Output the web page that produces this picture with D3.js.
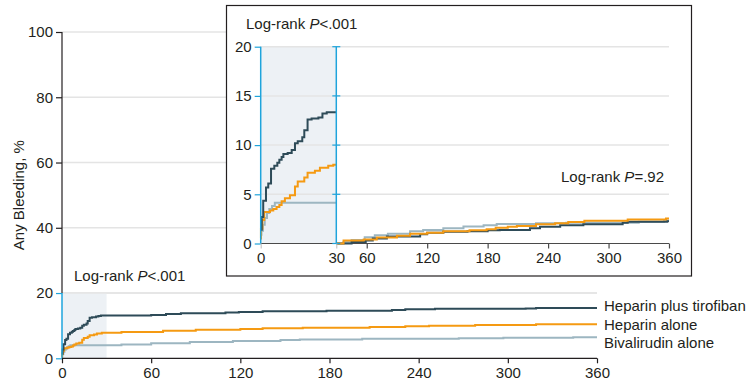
<!DOCTYPE html>
<html>
<head>
<meta charset="utf-8">
<script src="https://cdn.jsdelivr.net/npm/d3@7"></script>
<style>
  html, body { margin: 0; padding: 0; background: #fff; }
  svg { display: block; }
  text { font-family: "Liberation Sans", Arial, sans-serif; fill: #231f20; }
</style>
</head>
<body>
<svg id="chart" width="746" height="387"></svg>
<script>
// ---------- DATA ----------
const seriesNames = ["Heparin plus tirofiban", "Heparin alone", "Bivalirudin alone"];
const mainXTicks = [0, 60, 120, 180, 240, 300, 360];
const mainYTicks = [0, 20, 40, 60, 80, 100];
const insetYTicks = [0, 5, 10, 15, 20];
const insetXTicksEarly = [0, 30];
const insetXTicksLate = [60, 120, 180, 240, 300, 360];

// Main panel: [day, cumulative %]
const tirofibanMain = [[0,1.4],[0.4,2.7],[1.0,4.3],[2.1,5.6],[3.0,6.0],[4.1,7.4],[5.4,7.8],[6.6,8.1],[7.4,8.4],[8.3,8.7],[9.0,9.0],[10.7,9.1],[12.3,9.4],[13.6,10.0],[14.7,10.3],[16.5,10.7],[17.3,11.4],[18.6,12.4],[20.2,12.6],[22.9,12.8],[24.5,13.0],[26.2,13.1],[60,13.3],[70,13.6],[80,13.8],[110,14.0],[119,14.2],[135,14.4],[178,14.6],[222,14.8],[231,15.0],[251,15.15],[312,15.3],[319,15.45],[360,15.45]];
const heparinMain = [[0,0.5],[0.1,1.5],[0.65,2.3],[1.4,3.1],[3.7,3.3],[5.0,3.45],[6.3,3.65],[7.4,3.9],[8.3,4.2],[9.6,4.5],[11.6,4.8],[13.6,5.7],[14.7,6.2],[17.3,6.6],[18.6,7.1],[21.5,7.3],[23.5,7.6],[26.8,7.8],[40,8.07],[68,8.45],[90,8.75],[120,9.0],[135,9.2],[162,9.4],[207,9.6],[231,9.8],[247,10.0],[278,10.2],[319,10.4],[360,10.4]];
const bivalirudinMain = [[0,0.9],[0.3,1.3],[0.9,1.9],[1.6,2.6],[2.5,3.0],[3.4,3.4],[4.5,3.7],[5.6,4.0],[40,4.2],[60,4.6],[86,5.0],[115,5.3],[147,5.6],[160,5.8],[202,6.0],[267,6.15],[297,6.3],[344,6.45],[360,6.45]];

// Inset, days 0-30
const tirofibanEarly = [[0,1.4],[0.4,2.7],[1.0,4.35],[2.1,5.7],[3.0,6.1],[4.1,7.6],[5.4,7.9],[6.6,8.2],[7.4,8.5],[8.3,8.8],[9.0,9.1],[10.7,9.2],[12.3,9.5],[13.6,10.2],[14.7,10.4],[16.5,10.8],[17.3,11.5],[18.6,12.6],[20.2,12.7],[22.9,12.8],[24.5,13.2],[26.2,13.35],[30,13.35]];
const heparinEarly = [[0,0.5],[0.1,1.5],[0.65,2.4],[1.4,3.2],[3.7,3.35],[5.0,3.5],[6.3,3.7],[7.4,3.9],[8.3,4.3],[9.6,4.6],[11.6,4.9],[13.6,5.8],[14.7,6.3],[17.3,6.7],[18.6,7.2],[21.5,7.4],[23.5,7.7],[26.8,7.9],[28.8,8.0],[30,8.0]];
const bivalirudinEarly = [[0,0.9],[0.3,1.3],[0.9,1.9],[1.6,2.6],[2.5,3.1],[3.4,3.5],[4.5,3.8],[5.6,4.15],[30,4.15]];

// Inset, days 30-360 (landmark)
const tirofibanLate = [[30,0],[45,0.15],[59,0.3],[66,0.5],[80,0.7],[113,0.93],[120,1.08],[136,1.19],[160,1.25],[180,1.34],[192,1.37],[222,1.54],[232,1.71],[252,1.85],[275,1.95],[314,2.1],[319,2.2],[358,2.25],[360,2.25]];
const heparinLate = [[30,0],[37,0.3],[57,0.4],[70,0.6],[90,0.8],[103,0.98],[120,1.1],[136,1.25],[162,1.34],[179,1.45],[188,1.6],[200,1.71],[209,1.78],[228,1.95],[247,2.05],[260,2.18],[276,2.3],[319,2.45],[357,2.55],[360,2.55]];
const bivalirudinLate = [[30,0],[37,0.15],[45,0.35],[58,0.63],[68,0.85],[81,1.0],[103,1.24],[116,1.37],[136,1.54],[156,1.72],[176,1.85],[189,1.98],[228,2.05],[258,2.1],[300,2.12],[330,2.22],[355,2.35],[360,2.35]];

const colors = ["#2e4b58", "#f59a12", "#9db6c1"];
const axisBlue = "#1ea4dc";
const shade = "#edf1f5";
const gridColor = "#e4e4e4";

// ---------- DRAW ----------
const svg = d3.select("#chart");

// Main scales
const xMain = d3.scaleLinear().domain([0, 360]).range([62, 597]);
const yMain = d3.scaleLinear().domain([0, 100]).range([358.3, 32]);

// Main gridlines
svg.append("g").selectAll("line").data(mainYTicks.filter(d => d > 0)).join("line")
  .attr("x1", xMain(0)).attr("x2", xMain(360))
  .attr("y1", d => yMain(d)).attr("y2", d => yMain(d))
  .attr("stroke", gridColor).attr("stroke-width", 1.5);

// Main shading 0-30 days, 0-20%
svg.append("rect")
  .attr("x", xMain(0)).attr("y", yMain(20))
  .attr("width", xMain(30) - xMain(0)).attr("height", yMain(0) - yMain(20))
  .attr("fill", shade);
svg.append("line")
  .attr("x1", xMain(0)).attr("x2", xMain(360))
  .attr("y1", yMain(20)).attr("y2", yMain(20))
  .attr("stroke", gridColor).attr("stroke-width", 1.5);

// Main curves
const lineMain = d3.line().curve(d3.curveStepAfter).x(d => xMain(d[0])).y(d => yMain(d[1]));
[bivalirudinMain, heparinMain, tirofibanMain].forEach((s, i) => {
  svg.append("path").datum(s).attr("d", lineMain)
    .attr("fill", "none").attr("stroke", colors[2 - i]).attr("stroke-width", 2);
});

// Main y-axis
const yAxisMain = svg.append("g").attr("transform", `translate(${xMain(0)},0)`)
  .call(d3.axisLeft(yMain).tickValues(mainYTicks).tickSize(6).tickPadding(3));
yAxisMain.select(".domain").remove();
yAxisMain.selectAll(".tick line").attr("stroke", d => d <= 20 ? axisBlue : "#231f20").attr("stroke-width", 1.2);
yAxisMain.selectAll(".tick text").style("font-size", "15px").attr("fill", "#231f20");
svg.append("line").attr("x1", xMain(0)).attr("x2", xMain(0))
  .attr("y1", yMain(20)).attr("y2", yMain(100)).attr("stroke", "#231f20").attr("stroke-width", 1.2);
svg.append("line").attr("x1", xMain(0)).attr("x2", xMain(0))
  .attr("y1", yMain(0)).attr("y2", yMain(20)).attr("stroke", axisBlue).attr("stroke-width", 1.5);

// Main x-axis
const xAxisMain = svg.append("g").attr("transform", `translate(0,${yMain(0)})`)
  .call(d3.axisBottom(xMain).tickValues(mainXTicks).tickSize(5).tickPadding(4));
xAxisMain.select(".domain").attr("stroke", "#231f20").attr("stroke-width", 1.2)
  .attr("d", `M${xMain(0)},0H${xMain(360)}`);
xAxisMain.selectAll(".tick line").attr("stroke", "#231f20").attr("stroke-width", 1.2);
xAxisMain.selectAll(".tick text").style("font-size", "15px").attr("fill", "#231f20");

// Y-axis title
svg.append("text")
  .attr("transform", `translate(24,${yMain(50)}) rotate(-90)`)
  .attr("text-anchor", "middle").style("font-size", "15px")
  .text("Any Bleeding, %");

// Main log-rank
const lr1 = svg.append("text").attr("x", 74).attr("y", 280.5).style("font-size", "15px");
lr1.append("tspan").text("Log-rank ");
lr1.append("tspan").attr("font-style", "italic").text("P");
lr1.append("tspan").text("<.001");

// Series labels
const labelY = [311, 329.5, 348];
seriesNames.forEach((n, i) => {
  svg.append("text").attr("x", 604).attr("y", labelY[i]).style("font-size", "15px").text(n);
});

// ---------- INSET ----------
svg.append("rect").attr("x", 226.5).attr("y", 5.5).attr("width", 465).attr("height", 270.5)
  .attr("fill", "#fff").attr("stroke", "#231f20").attr("stroke-width", 1.2);

const xIn1 = d3.scaleLinear().domain([0, 30]).range([260.7, 336.3]);
const xIn2 = d3.scaleLinear().domain([30, 360]).range([336.5, 669]);
const yIn = d3.scaleLinear().domain([0, 20]).range([243.5, 46.7]);

// shading
svg.append("rect").attr("x", xIn1(0)).attr("y", yIn(20))
  .attr("width", xIn1(30) - xIn1(0)).attr("height", yIn(0) - yIn(20)).attr("fill", shade);

// gridlines
svg.append("g").selectAll("line").data(insetYTicks.filter(d => d > 0)).join("line")
  .attr("x1", xIn1(0)).attr("x2", xIn2(360))
  .attr("y1", d => yIn(d)).attr("y2", d => yIn(d))
  .attr("stroke", gridColor).attr("stroke-width", 1.5);

// x-axis line
svg.append("line").attr("x1", xIn1(0)).attr("x2", xIn2(360))
  .attr("y1", yIn(0)).attr("y2", yIn(0)).attr("stroke", "#4a4a4a").attr("stroke-width", 1.2);

// curves
const lineIn1 = d3.line().curve(d3.curveStepAfter).x(d => xIn1(d[0])).y(d => yIn(d[1]));
const lineIn2 = d3.line().curve(d3.curveStepAfter).x(d => xIn2(d[0])).y(d => yIn(d[1]));
[[bivalirudinEarly, 2], [heparinEarly, 1], [tirofibanEarly, 0]].forEach(([s, c]) => {
  svg.append("path").datum(s).attr("d", lineIn1)
    .attr("fill", "none").attr("stroke", colors[c]).attr("stroke-width", 2);
});
[[bivalirudinLate, 2], [tirofibanLate, 0], [heparinLate, 1]].forEach(([s, c]) => {
  svg.append("path").datum(s).attr("d", lineIn2)
    .attr("fill", "none").attr("stroke", colors[c]).attr("stroke-width", 2);
});

// inset y-axis (blue) at day 0
const yAxIn = svg.append("g").attr("transform", `translate(${xIn1(0)},0)`)
  .call(d3.axisLeft(yIn).tickValues(insetYTicks).tickSize(6).tickPadding(3));
yAxIn.select(".domain").attr("stroke", axisBlue).attr("stroke-width", 1.5)
  .attr("d", `M0,${yIn(0)}V${yIn(20)}`);
yAxIn.selectAll(".tick line").attr("stroke", axisBlue).attr("stroke-width", 1.2);
yAxIn.selectAll(".tick text").style("font-size", "15px").attr("fill", "#231f20");

// blue divider at day 30 with two-sided ticks
const div30 = svg.append("g").attr("transform", `translate(${xIn1(30)},0)`);
div30.append("line").attr("y1", yIn(0)).attr("y2", yIn(20)).attr("stroke", axisBlue).attr("stroke-width", 1.5);
div30.selectAll(".t").data(insetYTicks).join("line")
  .attr("x1", -4).attr("x2", 4).attr("y1", d => yIn(d)).attr("y2", d => yIn(d))
  .attr("stroke", axisBlue).attr("stroke-width", 1.2);

// inset x-axis ticks
const xAx1 = svg.append("g").attr("transform", `translate(0,${yIn(0)})`)
  .call(d3.axisBottom(xIn1).tickValues(insetXTicksEarly).tickSize(5).tickPadding(4));
xAx1.select(".domain").remove();
xAx1.selectAll(".tick line").attr("stroke", "#bbb").attr("stroke-width", 1);
xAx1.selectAll(".tick text").style("font-size", "15px").attr("fill", "#231f20");
const xAx2 = svg.append("g").attr("transform", `translate(0,${yIn(0)})`)
  .call(d3.axisBottom(xIn2).tickValues(insetXTicksLate).tickSize(5).tickPadding(4));
xAx2.select(".domain").remove();
xAx2.selectAll(".tick line").attr("stroke", "#4a4a4a").attr("stroke-width", 1.2);
xAx2.selectAll(".tick text").style("font-size", "15px").attr("fill", "#231f20");

// inset log-rank labels
const lr2 = svg.append("text").attr("x", 246).attr("y", 29).style("font-size", "15px");
lr2.append("tspan").text("Log-rank ");
lr2.append("tspan").attr("font-style", "italic").text("P");
lr2.append("tspan").text("<.001");
const lr3 = svg.append("text").attr("x", 664).attr("y", 182).attr("text-anchor", "end").style("font-size", "15px");
lr3.append("tspan").text("Log-rank ");
lr3.append("tspan").attr("font-style", "italic").text("P");
lr3.append("tspan").text("=.92");
</script>
</body>
</html>
